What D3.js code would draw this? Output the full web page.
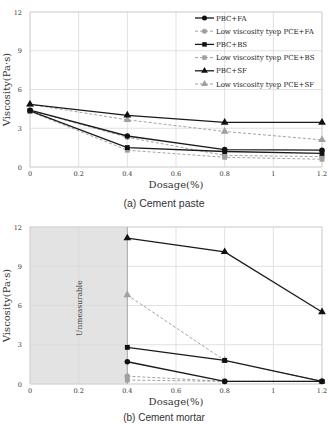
<!DOCTYPE html>
<html>
<head>
<meta charset="utf-8">
<script src="https://cdn.jsdelivr.net/npm/d3@7"></script>
<style>
body { margin: 0; background: #fff; }
</style>
</head>
<body>
<script>
// data
var dosagePaste = [0, 0.4, 0.8, 1.2];
var dosageMortar = [0.4, 0.8, 1.2];
var seriesNames = ['PBC+FA', 'Low viscosity tyep PCE+FA', 'PBC+BS', 'Low viscosity tyep PCE+BS', 'PBC+SF', 'Low viscosity tyep PCE+SF'];
var pasteFA = [4.4, 2.4, 1.35, 1.3];
var pasteLowFA = [4.4, 2.3, 0.9, 0.8];
var pasteBS = [4.35, 1.5, 1.2, 1.05];
var pasteLowBS = [4.3, 1.3, 0.75, 0.6];
var pasteSF = [4.85, 4.0, 3.45, 3.45];
var pasteLowSF = [4.85, 3.65, 2.75, 2.1];
var mortarFA = [1.7, 0.2, 0.2];
var mortarLowFA = [0.6, 0.2, 0.2];
var mortarBS = [2.8, 1.8, 0.2];
var mortarLowBS = [0.3, 0.2, 0.2];
var mortarSF = [11.15, 10.1, 5.5];
var mortarLowSF = [6.8, 1.8, 0.2];
var xTicks = [0, 0.2, 0.4, 0.6, 0.8, 1, 1.2];
var yTicks = [0, 3, 6, 9, 12];

var svg = d3.select('body').append('svg').attr('width', 328).attr('height', 424);
var serif = '"DejaVu Serif", "Liberation Serif", serif';

// style for each series: black solid or grey dashed, marker shape
var styles = [
  {color: '#1a1a1a', dash: null, shape: d3.symbolCircle},
  {color: '#999', dash: '3,2', shape: d3.symbolCircle},
  {color: '#1a1a1a', dash: null, shape: d3.symbolSquare},
  {color: '#999', dash: '3,2', shape: d3.symbolSquare},
  {color: '#1a1a1a', dash: null, shape: d3.symbolTriangle},
  {color: '#999', dash: '3,2', shape: d3.symbolTriangle}
];

function drawChart(top, bottom, xs, seriesList, shaded) {
  var x = d3.scaleLinear().domain([0, 1.2]).range([30, 322]);
  var y = d3.scaleLinear().domain([0, 12]).range([bottom, top]);
  var g = svg.append('g');

  if (shaded) {
    g.append('rect').attr('x', x(0)).attr('y', y(12))
      .attr('width', x(0.4) - x(0)).attr('height', y(0) - y(12))
      .attr('fill', '#e3e3e3');
  }

  // grid
  g.selectAll('.vg').data(xTicks).enter().append('line')
    .attr('x1', d => x(d)).attr('x2', d => x(d))
    .attr('y1', y(0)).attr('y2', y(12))
    .attr('stroke', '#d9d9d9').attr('stroke-width', 0.8);
  g.selectAll('.hg').data(yTicks).enter().append('line')
    .attr('x1', x(0)).attr('x2', x(1.2))
    .attr('y1', d => y(d)).attr('y2', d => y(d))
    .attr('stroke', '#d9d9d9').attr('stroke-width', 0.8);
  g.append('rect').attr('x', x(0)).attr('y', y(12))
    .attr('width', x(1.2) - x(0)).attr('height', y(0) - y(12))
    .attr('fill', 'none').attr('stroke', '#cfcfcf').attr('stroke-width', 0.8);

  if (shaded) {
    g.append('line').attr('x1', x(0.4)).attr('x2', x(0.4))
      .attr('y1', y(0)).attr('y2', y(12)).attr('stroke', '#999').attr('stroke-width', 0.8);
    g.append('text').attr('transform', 'translate(' + (x(0.2) + 3) + ',' + y(5.8) + ') rotate(-90)')
      .attr('text-anchor', 'middle').attr('font-family', serif).attr('font-size', 7.5)
      .attr('fill', '#444').text('Unmeasurable');
  }

  // tick labels
  g.selectAll('.xt').data(xTicks).enter().append('text')
    .attr('x', d => x(d)).attr('y', y(0) + 9)
    .attr('text-anchor', 'middle').attr('font-family', serif).attr('font-size', 6.5)
    .attr('fill', '#333').text(d => d);
  g.selectAll('.yt').data(yTicks).enter().append('text')
    .attr('x', x(0) - 8).attr('y', d => y(d) + 2.5)
    .attr('text-anchor', 'end').attr('font-family', serif).attr('font-size', 6.5)
    .attr('fill', '#333').text(d => d);

  g.append('text').attr('x', 176).attr('y', y(0) + 21)
    .attr('text-anchor', 'middle').attr('font-family', serif).attr('font-size', 10)
    .attr('fill', '#333').text('Dosage(%)');
  g.append('text').attr('transform', 'translate(10,' + ((top + bottom) / 2) + ') rotate(-90)')
    .attr('text-anchor', 'middle').attr('font-family', serif).attr('font-size', 10)
    .attr('fill', '#333').text('Viscosity(Pa·s)');

  var line = d3.line().x(d => x(d[0])).y(d => y(d[1]));
  // grey dashed first, black on top
  var order = [1, 3, 5, 0, 2, 4];
  order.forEach(function (i) {
    var pts = xs.map((d, k) => [d, seriesList[i][k]]);
    var st = styles[i];
    g.append('path').attr('d', line(pts)).attr('fill', 'none')
      .attr('stroke', st.color).attr('stroke-width', st.dash ? 0.9 : 1.3)
      .attr('stroke-dasharray', st.dash);
    g.selectAll(null).data(pts).enter().append('path')
      .attr('d', d3.symbol().type(st.shape).size(st.shape === d3.symbolTriangle ? 26 : 24))
      .attr('transform', d => 'translate(' + x(d[0]) + ',' + y(d[1]) + ')')
      .attr('fill', st.color === '#999' ? '#a0a0a0' : '#111');
  });
  return g;
}

drawChart(12, 167, dosagePaste, [pasteFA, pasteLowFA, pasteBS, pasteLowBS, pasteSF, pasteLowSF], false);
drawChart(227, 384, dosageMortar, [mortarFA, mortarLowFA, mortarBS, mortarLowBS, mortarSF, mortarLowSF], true);

// legend for the top chart
var legend = svg.append('g');
seriesNames.forEach(function (name, i) {
  var yy = 18 + i * 13.2;
  var st = styles[i];
  legend.append('line').attr('x1', 195).attr('x2', 214).attr('y1', yy).attr('y2', yy)
    .attr('stroke', st.color).attr('stroke-width', st.dash ? 0.9 : 1.3)
    .attr('stroke-dasharray', st.dash);
  legend.append('path')
    .attr('d', d3.symbol().type(st.shape).size(20))
    .attr('transform', 'translate(204.5,' + yy + ')')
    .attr('fill', st.color === '#999' ? '#a0a0a0' : '#111');
  legend.append('text').attr('x', 216).attr('y', yy + 2.5)
    .attr('font-family', serif).attr('font-size', 7)
    .attr('fill', '#222').text(name);
});

// captions
svg.append('text').attr('x', 164).attr('y', 207)
  .attr('text-anchor', 'middle').attr('font-family', '"Liberation Sans", Arial, sans-serif')
  .attr('font-size', 10.5).attr('fill', '#333').text('(a) Cement paste');
svg.append('text').attr('x', 164).attr('y', 421)
  .attr('text-anchor', 'middle').attr('font-family', '"Liberation Sans", Arial, sans-serif')
  .attr('font-size', 10).attr('fill', '#333').text('(b) Cement mortar');
</script>
</body>
</html>
